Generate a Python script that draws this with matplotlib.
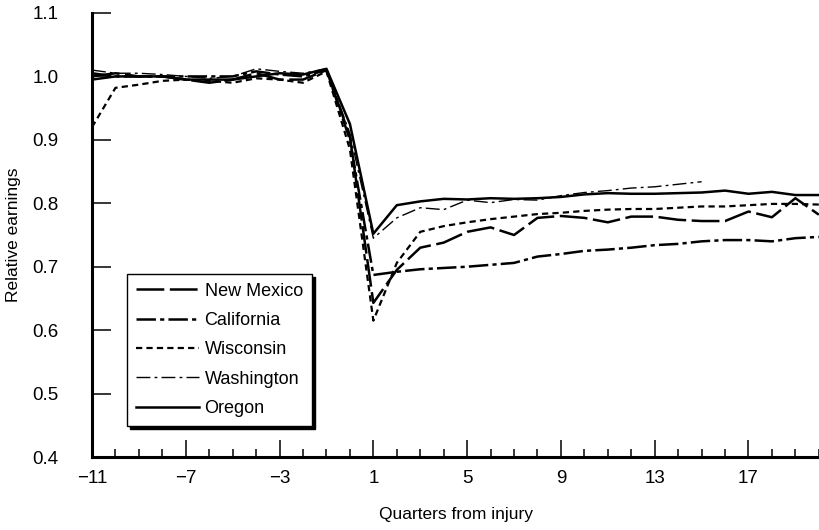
import numpy as np
import matplotlib.pyplot as plt
from matplotlib.ticker import MultipleLocator, FormatStrFormatter

plt.rcParams['font.family'] = ['Liberation Sans', 'DejaVu Sans']
plt.rcParams['lines.scale_dashes'] = False

quarters = np.arange(-11, 21)

new_mexico = [1.000, 1.005, 1.000, 1.000, 0.995, 0.990, 0.995, 1.005, 0.995, 0.995, 1.010,
              0.905, 0.643, 0.695, 0.730, 0.738, 0.755, 0.762, 0.750, 0.777, 0.780, 0.777,
              0.770, 0.779, 0.779, 0.774, 0.772, 0.772, 0.787, 0.778, 0.808, 0.782]
california = [1.005, 1.000, 1.000, 1.000, 1.000, 1.000, 1.000, 1.008, 1.003, 1.000, 1.010,
              0.900, 0.687, 0.692, 0.696, 0.698, 0.700, 0.703, 0.706, 0.716, 0.720, 0.725,
              0.727, 0.730, 0.734, 0.736, 0.740, 0.742, 0.742, 0.740, 0.745, 0.747]
wisconsin = [0.920, 0.982, 0.987, 0.993, 0.995, 0.993, 0.990, 0.997, 0.995, 0.990, 1.008,
             0.885, 0.615, 0.706, 0.755, 0.764, 0.770, 0.775, 0.779, 0.783, 0.785, 0.788,
             0.790, 0.791, 0.791, 0.793, 0.795, 0.795, 0.797, 0.799, 0.799, 0.798]
washington = [1.010, 1.005, 1.005, 1.003, 1.000, 0.997, 1.000, 1.012, 1.008, 1.005, 1.012,
              0.910, 0.745, 0.777, 0.793, 0.790, 0.805, 0.801, 0.806, 0.805, 0.812, 0.817,
              0.820, 0.824, 0.826, 0.830, 0.834]
oregon = [0.995, 1.000, 1.000, 1.000, 0.995, 0.995, 0.995, 1.000, 1.005, 1.003, 1.012,
          0.925, 0.752, 0.797, 0.803, 0.807, 0.806, 0.808, 0.807, 0.808, 0.810, 0.814,
          0.816, 0.815, 0.815, 0.816, 0.817, 0.820, 0.815, 0.818, 0.813, 0.813]

series = [
    ('New Mexico', new_mexico, (0, (20, 4)), 1.8),
    ('California', california, (0, (14, 3, 3, 3)), 1.8),
    ('Wisconsin', wisconsin, (0, (4.5, 3)), 1.6),
    ('Washington', washington, (0, (10, 3, 2, 3)), 1.0),
    ('Oregon', oregon, '-', 1.8),
]

fig = plt.figure(figsize=(8.2, 5.3), dpi=100)
ax = fig.add_axes([0.1122, 0.1377, 0.8878, 0.8378])

for name, vals, ls, lw in series:
    ax.plot(quarters[:len(vals)], vals, color='black', linestyle=ls, linewidth=lw, label=name)

ax.set_xlim(-11, 20.05)
ax.set_ylim(0.4, 1.1)
ax.set_xticks(np.arange(-11, 20, 4))
ax.xaxis.set_minor_locator(MultipleLocator(1))
ax.yaxis.set_major_locator(MultipleLocator(0.1))
ax.yaxis.set_major_formatter(FormatStrFormatter('%.1f'))

for s in ['top', 'right']:
    ax.spines[s].set_visible(False)
for s in ['left', 'bottom']:
    ax.spines[s].set_linewidth(2.2)

ax.tick_params(axis='x', which='major', direction='in', length=12, width=1.1, labelsize=13.5, pad=9)
ax.tick_params(axis='x', which='minor', direction='in', length=6, width=1.1)
ax.tick_params(axis='y', which='major', direction='in', length=14, width=1.1, labelsize=13.5, pad=24)

ax.set_xlabel('Quarters from injury', fontsize=12.5, labelpad=15)
ax.set_ylabel('Relative earnings', fontsize=12.5, labelpad=8)

leg = ax.legend(loc='lower left', bbox_to_anchor=(0.048, 0.07), borderaxespad=0,
                fontsize=13, handlelength=3.5, handletextpad=0.3,
                frameon=True, fancybox=False, edgecolor='black', framealpha=1,
                borderpad=0.5, labelspacing=0.68,
                shadow={'color': 'black', 'alpha': 1})
leg.get_frame().set_linewidth(1.0)

fig.savefig('out.png', dpi=100)
